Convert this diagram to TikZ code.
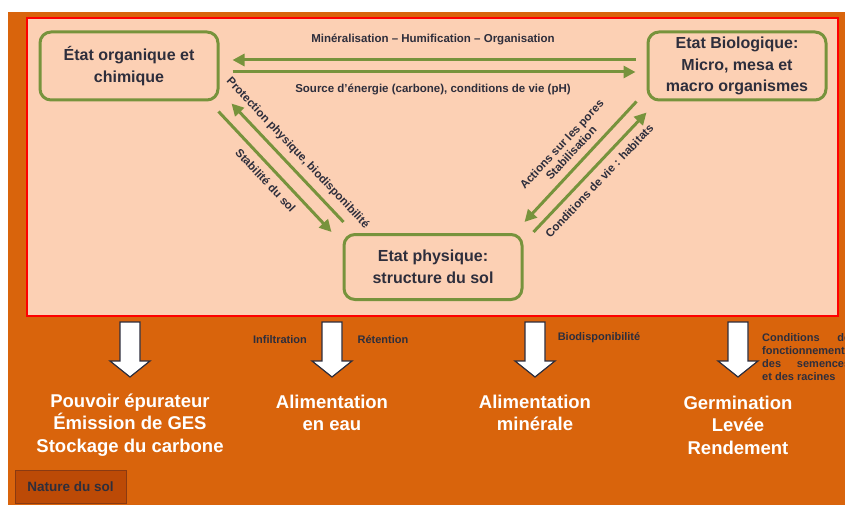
\documentclass[tikz,border=0pt]{standalone}
\usepackage{fontspec}
\setmainfont{Liberation Sans}
\usetikzlibrary{arrows.meta,calc}

\definecolor{soilorange}{HTML}{D9640C}
\definecolor{peach}{HTML}{FCD0B4}
\definecolor{leafgreen}{HTML}{77933C}
\definecolor{inkdark}{HTML}{2E2E3C}
\definecolor{rustfill}{HTML}{BC4A06}
\definecolor{rustline}{HTML}{8A3A12}

\begin{document}
\begin{tikzpicture}[x=1pt, y=-1pt,
    state/.style={draw=leafgreen, line width=3pt, rounded corners=11pt,
        fill=peach, minimum width=178pt, minimum height=68pt, align=center,
        text=inkdark, font=\bfseries\fontsize{16}{21.5}\selectfont},
    flow/.style={draw=leafgreen, line width=3pt,
        -{Triangle[length=12pt,width=12pt]}},
    lbl/.style={text=inkdark, inner sep=2pt, align=center,
        font=\bfseries\fontsize{11.5}{13}\selectfont},
    note/.style={text=inkdark, inner sep=1pt,
        font=\bfseries\fontsize{11}{13}\selectfont},
    result/.style={text=white, align=center,
        font=\bfseries\fontsize{18.5}{22.5}\selectfont},
    blockarrow/.style={draw=inkdark, line width=1.2pt, fill=white,
        line join=miter}
]
    % fond et cadre
    \useasboundingbox (0,0) rectangle (845,505);
    \fill[white] (0,0) rectangle (845,505);
    \fill[soilorange] (8,12) rectangle (845,505);
    \draw[red, line width=2pt, fill=peach] (27,18) rectangle (838,316);

    % les trois etats
    \node[state] (org) at (129,66) {État organique et\\chimique};
    \node[state] (bio) at (737,66) {Etat Biologique:\\Micro, mesa et\\macro organismes};
    \node[state, minimum height=65pt] (phy) at (433,267) {Etat physique:\\structure du sol};

    % relations
    \draw[flow, shorten >=13pt, shorten <=11pt] ([yshift=6pt]bio.west) -- ([yshift=6pt]org.east)
        node[lbl, midway, above=12pt] {Minéralisation -- Humification -- Organisation};
    \draw[flow, shorten <=13pt, shorten >=11pt] ([yshift=-6pt]org.east) -- ([yshift=-6pt]bio.west)
        node[lbl, midway, below=9pt] {Source d’énergie (carbone), conditions de vie (pH)};

    \draw[flow] ($(phy.north west)+(1,-11)$) -- ($(org.south east)+(12,2)$)
        node[lbl, midway, sloped, above=5pt] {Protection physique, biodisponibilité};
    \draw[flow] ($(org.south east)+(-1,10)$) -- ($(phy.north west)+(-11,-1)$)
        node[lbl, midway, sloped, below=5pt] {Stabilité du sol};

    \draw[flow] ($(bio.south west)+(-10,0)$) -- ($(phy.north east)+(1,-11)$)
        node[lbl, midway, sloped, above=5pt] {Actions sur les pores\\Stabilisation};
    \draw[flow] ($(phy.north east)+(10,-1)$) -- ($(bio.south west)+(0,11)$)
        node[lbl, midway, sloped, below=5pt] {Conditions de vie : habitats};

    % fleches vers les fonctions
    \foreach \x in {130,332,535,738}
        \draw[blockarrow] (\x-10,322) -- (\x+10,322) -- (\x+10,361) -- (\x+20,361)
            -- (\x,377) -- (\x-20,361) -- (\x-10,361) -- cycle;

    \node[note] (infil) at (280,340) {Infiltration};
    \node[note] (reten) at (383,340) {Rétention};
    \node[note] (biodi) at (599,338) {Biodisponibilité};
    \node[note, anchor=north west, align=left] (condi) at (761,332)
        {\makebox[88pt][s]{Conditions\hfill de}\\fonctionnement\\
         \makebox[88pt][s]{des\hfill semences}\\et des racines};

    % fonctions du sol
    \node[result] (epur) at (130,425) {Pouvoir épurateur\\Émission de GES\\Stockage du carbone};
    \node[result] (eau) at (332,413) {Alimentation\\en eau};
    \node[result] (mine) at (535,413) {Alimentation\\minérale};
    \node[result] (germ) at (738,425) {Germination\\Levée\\Rendement};

    \node[draw=rustline, fill=rustfill, text=inkdark, line width=1pt,
        minimum width=111pt, minimum height=33pt,
        font=\bfseries\fontsize{13.5}{15}\selectfont] (nature) at (70.5,486.5) {Nature du sol};
\end{tikzpicture}
\end{document}
